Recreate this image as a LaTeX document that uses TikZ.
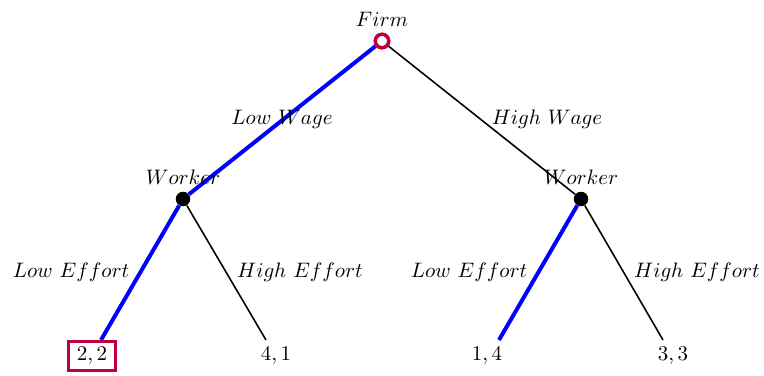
\documentclass[tikz,border=0pt]{standalone}
\usepackage{xcolor}
\begin{document}
\begin{tikzpicture}[x=0.477pt,y=-0.477pt,
  chosen/.style={blue,line width=1.9pt},
  plain/.style={black,line width=0.75pt},
  rootnode/.style={circle,draw=purple,line width=1.6pt,fill=white,minimum size=6.4pt,inner sep=0pt},
  decnode/.style={circle,fill=black,minimum size=6.8pt,inner sep=0pt},
  lbl/.style={inner sep=1pt},
  payoff/.style={inner sep=2pt},
  eqbox/.style={draw=purple,line width=1.5pt,inner sep=0pt}]
\useasboundingbox (0,0) rectangle (764,376);
% nodes
\node[rootnode] (F) at (382,41) {};
\node[decnode] (W1) at (183,199) {};
\node[decnode] (W2) at (581,199) {};
\coordinate (L1) at (101,340);
\coordinate (L2) at (266,340);
\coordinate (L3) at (499,340);
\coordinate (L4) at (663,340);
% edges
\draw[plain] (F) -- (W2);
\draw[plain] (W1) -- (L2);
\draw[plain] (W2) -- (L4);
\draw[chosen] (F) -- (W1);
\draw[chosen] (W1) -- (L1);
\draw[chosen] (W2) -- (L3);
\node[rootnode] at (F) {};
\node[decnode] at (W1) {};
\node[decnode] at (W2) {};
% player labels
\node[lbl] (tF) at (382,19) {$Firm$};
\node[lbl] (tW1) at (183,177) {$Worker$};
\node[lbl] (tW2) at (581,177) {$Worker$};
% action labels
\node[lbl] (a1) at (282,119) {$Low\ Wage$};
\node[lbl] (a2) at (547,119) {$High\ Wage$};
\node[lbl] (a3) at (71,272) {$Low\ Effort$};
\node[lbl] (a4) at (300,272) {$High\ Effort$};
\node[lbl] (a5) at (469,272) {$Low\ Effort$};
\node[lbl] (a6) at (697,272) {$High\ Effort$};
% payoffs
\node[payoff,eqbox,minimum width=47*0.477pt,minimum height=29*0.477pt] (p1) at (92,356) {$2,2$};
\node[payoff] (p2) at (276,356) {$4,1$};
\node[payoff] (p3) at (487,356) {$1,4$};
\node[payoff] (p4) at (673,356) {$3,3$};
\end{tikzpicture}
\end{document}
